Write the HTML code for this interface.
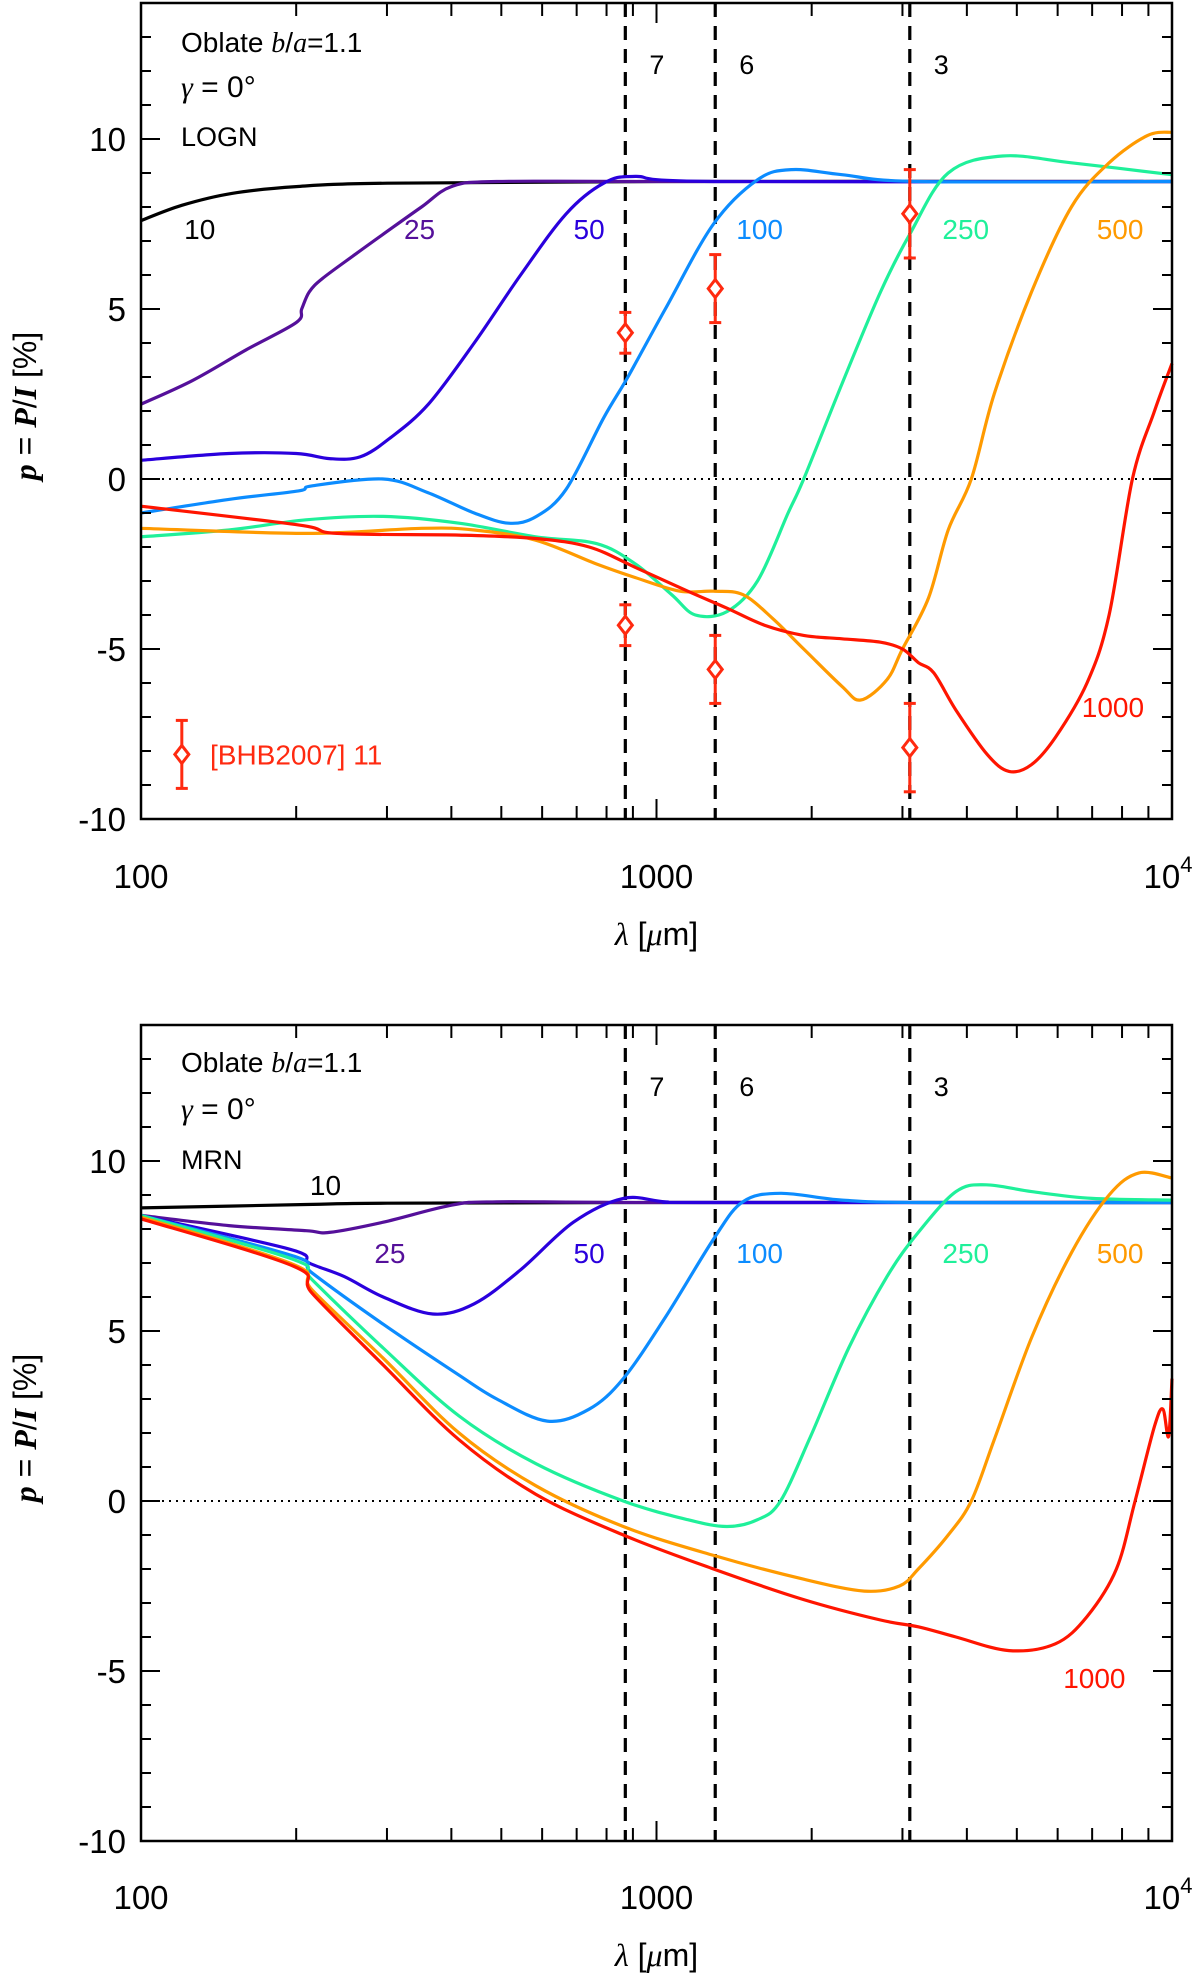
<!DOCTYPE html>
<html><head><meta charset="utf-8"><style>
html,body{margin:0;padding:0;background:#fff;}
svg{display:block;}
text{font-family:"Liberation Sans",sans-serif;}
.it{font-family:"Liberation Serif",serif;font-style:italic;}
</style></head><body>
<svg id="fig" width="1200" height="1976" viewBox="0 0 1200 1976" xmlns="http://www.w3.org/2000/svg"></svg>
<script>
const NS="http://www.w3.org/2000/svg";
const svg=document.getElementById('fig');
const colors={s10:"#000000",s25:"#55109a",s50:"#2a00dd",s100:"#0c8cff",s250:"#1ff09a",s500:"#ff9a00",s1000:"#ff1500"};
const sizes=["10","25","50","100","250","500","1000"];
const bandLambda=[870,1300,3100];
const bandLabels=["7","6","3"];
const yTickValues=[-10,-5,0,5,10];
const xTickLabels=["100","1000","10"];
// top panel (LOGN) series: [lambda, p]
const top10=[[100,7.6],[120,8.05],[150,8.4],[200,8.6],[300,8.7],[1000,8.75],[10000,8.75]];
const top25=[[100,2.2],[126,2.9],[160,3.8],[200,4.6],[205,5.0],[212,5.5],[225,5.9],[260,6.6],[295,7.2],[350,8.0],[400,8.6],[490,8.75],[1000,8.75],[10000,8.75]];
const top50=[[100,0.55],[148,0.75],[200,0.75],[232,0.6],[266,0.65],[304,1.2],[361,2.2],[443,4.0],[545,6.0],[668,7.8],[790,8.7],[910,8.9],[1290,8.75],[10000,8.75]];
const top100=[[100,-1.0],[148,-0.6],[202,-0.35],[215,-0.2],[295,0.0],[360,-0.4],[443,-1.0],[517,-1.3],[585,-1.1],[668,-0.3],[790,1.8],[880,3.0],[1040,5.0],[1290,7.5],[1570,8.8],[1830,9.1],[2290,8.95],[3220,8.75],[10000,8.75]];
const top250=[[100,-1.7],[148,-1.5],[209,-1.2],[295,-1.1],[414,-1.3],[583,-1.7],[765,-1.9],[910,-2.5],[1070,-3.4],[1190,-4.0],[1370,-3.9],[1570,-3.0],[1800,-1.0],[1930,0.0],[2290,2.8],[2720,5.5],[3100,7.2],[3680,9.0],[4690,9.5],[6380,9.3],[10000,8.95]];
const top500=[[100,-1.45],[209,-1.6],[350,-1.45],[443,-1.5],[583,-1.8],[765,-2.5],[910,-2.9],[1110,-3.3],[1290,-3.3],[1470,-3.4],[1680,-4.1],[1930,-5.0],[2290,-6.1],[2490,-6.5],[2800,-5.9],[3000,-5.0],[3370,-3.5],[3680,-1.5],[4080,0.0],[4520,2.5],[5340,5.5],[6380,8.0],[7550,9.3],[8960,10.1],[10000,10.2]];
const top1000=[[100,-0.8],[202,-1.35],[240,-1.6],[414,-1.65],[583,-1.75],[740,-2.0],[910,-2.6],[1150,-3.3],[1370,-3.8],[1620,-4.3],[1930,-4.6],[2290,-4.7],[2720,-4.8],[3000,-5.0],[3220,-5.4],[3450,-5.7],[3810,-6.8],[4380,-8.1],[4830,-8.6],[5340,-8.4],[5940,-7.6],[6840,-6.0],[7550,-4.0],[8380,0.0],[9250,2.0],[10000,3.4]];
// bottom panel (MRN) series
const bot10=[[100,8.62],[209,8.72],[300,8.76],[1000,8.78],[10000,8.78]];
const bot25=[[100,8.4],[148,8.1],[209,7.95],[232,7.9],[295,8.2],[400,8.7],[490,8.8],[1000,8.78],[10000,8.78]];
const bot50=[[100,8.4],[195,7.4],[212,7.0],[248,6.6],[295,6.0],[368,5.5],[443,5.8],[545,6.8],[690,8.2],[862,8.9],[1040,8.8],[1290,8.78],[10000,8.78]];
const bot100=[[100,8.4],[198,7.2],[215,6.7],[295,5.2],[414,3.7],[490,3.0],[614,2.35],[740,2.7],[862,3.6],[1040,5.4],[1290,7.7],[1470,8.8],[1740,9.05],[2290,8.85],[3220,8.78],[10000,8.78]];
const bot250=[[100,8.4],[198,7.1],[215,6.5],[295,4.5],[414,2.5],[583,1.1],[862,0.0],[1150,-0.55],[1370,-0.75],[1570,-0.55],[1740,0.0],[1990,1.9],[2360,4.5],[2800,6.6],[3220,7.9],[3810,9.1],[4360,9.3],[5340,9.1],[7000,8.9],[10000,8.85]];
const bot500=[[100,8.35],[198,6.95],[215,6.2],[295,4.2],[414,2.0],[583,0.45],[862,-0.75],[1290,-1.6],[1930,-2.3],[2530,-2.65],[2960,-2.5],[3220,-2.0],[3680,-1.0],[4080,0.0],[4520,1.8],[5340,4.8],[6380,7.3],[7550,9.0],[8630,9.65],[10000,9.5]];
const bot1000=[[100,8.3],[198,6.9],[215,6.1],[295,4.0],[414,1.8],[583,0.2],[862,-1.0],[1290,-2.0],[1930,-2.9],[2720,-3.5],[3220,-3.7],[3810,-4.0],[4830,-4.4],[5940,-4.2],[6840,-3.4],[7800,-2.0],[8480,0.0],[9250,2.2],[9600,2.7],[9850,1.9],[10000,3.6]];
// observations (top panel)
const obsLambda=[870,870,1300,1300,3100,3100];
const obsP=[4.3,-4.3,5.6,-5.6,7.8,-7.9];
const obsErr=[0.6,0.6,1.0,1.0,1.3,1.3];
// curve label positions [lambda, p]
const topLabels=[[130,7.36],[347,7.36],[740,7.36],[1585,7.36],[3980,7.36],[7930,7.36],[7680,-6.7]];
const botLabels=[[228,9.3],[304,7.3],[740,7.3],[1585,7.3],[3980,7.3],[7930,7.3],[7070,-5.2]];

function el(tag,attrs,parent){const e=document.createElementNS(NS,tag);for(const k in attrs)e.setAttribute(k,attrs[k]);(parent||svg).appendChild(e);return e;}

function makePanel(cfg){
  const L=141,R=1172,T=cfg.top,B=cfg.bottom;
  const ymin=-10,ymax=14;
  const X=l=>L+(Math.log10(l)-2)/2*(R-L);
  const Y=p=>B-(p-ymin)/(ymax-ymin)*(B-T);
  const g=el('g',{});
  
  
  // zero dotted line
  const z=el('line',{x1:L,x2:R,y1:Y(0),y2:Y(0),stroke:'#000','stroke-width':2,'stroke-dasharray':'2,5'},g);
  
  // band lines
  bandLambda.forEach((l,i)=>{
    const ln=el('line',{x1:X(l),x2:X(l),y1:T,y2:B,stroke:'#000','stroke-width':3.2,'stroke-dasharray':'14,9'},g);
    
    const t=el('text',{x:X(l)+24,y:cfg.bandY,'font-size':27,'text-anchor':'start'},g);
    t.textContent=bandLabels[i];
    
  });
  // curves
  cfg.series.forEach((s,i)=>{
    const pts=s.map(d=>[X(d[0]),Y(d[1])]);
    let d='M'+pts[0][0].toFixed(1)+','+pts[0][1].toFixed(1);
    for(let k=0;k<pts.length-1;k++){
      const p0=pts[Math.max(0,k-1)],p1=pts[k],p2=pts[k+1],p3=pts[Math.min(pts.length-1,k+2)];
      const c1x=p1[0]+(p2[0]-p0[0])/6,c1y=p1[1]+(p2[1]-p0[1])/6;
      const c2x=p2[0]-(p3[0]-p1[0])/6,c2y=p2[1]-(p3[1]-p1[1])/6;
      d+=' C'+c1x.toFixed(1)+','+c1y.toFixed(1)+' '+c2x.toFixed(1)+','+c2y.toFixed(1)+' '+p2[0].toFixed(1)+','+p2[1].toFixed(1);
    }
    const c=colors['s'+sizes[i]];
    const path=el('path',{d:d,fill:'none',stroke:c,'stroke-width':3.2,'stroke-linejoin':'round'},g);
    
    const lp=cfg.labels[i];
    const t=el('text',{x:X(lp[0]),y:Y(lp[1])+10,'font-size':28,'text-anchor':'middle',fill:c},g);
    t.textContent=sizes[i];
    
  });
  // observations
  if(cfg.obs){
    const drawObs=(l,p,e,nm)=>{
      const og=el('g',{stroke:'#ff2a10','stroke-width':3,fill:'none'},g);
      
      const x=X(l),y=Y(p),y1=Y(p+e),y2=Y(p-e);
      el('line',{x1:x,x2:x,y1:y1,y2:y2},og);
      el('line',{x1:x-6,x2:x+6,y1:y1,y2:y1},og);
      el('line',{x1:x-6,x2:x+6,y1:y2,y2:y2},og);
      el('path',{d:`M${x},${y-9} L${x+7},${y} L${x},${y+9} L${x-7},${y} Z`,fill:'#fff'},og);
    };
    obsLambda.forEach((l,i)=>drawObs(l,obsP[i],obsErr[i],'observation-point'));
    drawObs(120,-8.1,1.0,'legend-marker');
    const t=el('text',{x:210,y:Y(-8.1)+10,'font-size':28,fill:'#ff2a10'},g);
    t.textContent='[BHB2007] 11';
    
  }
  // frame
  const fr=el('rect',{x:L,y:T,width:R-L,height:B-T,fill:'none',stroke:'#000','stroke-width':2.5},g);
  
  // y ticks
  for(let v=ymin;v<=ymax;v++){
    const major=v%5===0, len=major?19:10, y=Y(v);
    el('line',{x1:L,x2:L+len,y1:y,y2:y,stroke:'#000','stroke-width':2},g);
    el('line',{x1:R,x2:R-len,y1:y,y2:y,stroke:'#000','stroke-width':2},g);
  }
  yTickValues.forEach(v=>{
    const t=el('text',{x:126,y:Y(v)+12,'font-size':33,'text-anchor':'end'},g);
    t.textContent=String(v);
    
  });
  // x ticks
  for(let dec=100;dec<=1000;dec*=10){
    for(let m=1;m<=10;m++){
      const l=dec*m;if(l>10000)break;
      const major=(m===1||m===10), len=major?20:13, x=X(l);
      el('line',{x1:x,x2:x,y1:B,y2:B-len,stroke:'#000','stroke-width':2},g);
      el('line',{x1:x,x2:x,y1:T,y2:T+len,stroke:'#000','stroke-width':2},g);
    }
  }
  [[100,xTickLabels[0]],[1000,xTickLabels[1]]].forEach(a=>{
    const t=el('text',{x:X(a[0]),y:cfg.xtickY,'font-size':33,'text-anchor':'middle'},g);
    t.textContent=a[1];
  });
  const t4=el('text',{x:X(10000)-4,y:cfg.xtickY,'font-size':33,'text-anchor':'middle'},g);
  t4.innerHTML='10<tspan dy="-16" font-size="22">4</tspan>';
  
  // axis titles
  const xl=el('text',{x:(L+R)/2,y:cfg.xlabY,'font-size':32,'text-anchor':'middle'},g);
  xl.innerHTML='<tspan class="it">λ</tspan> [<tspan class="it">μ</tspan>m]';
  
  const cy=(T+B)/2-5;
  const yl=el('text',{x:0,y:0,'font-size':32,'text-anchor':'middle',transform:`translate(36,${cy}) rotate(-90)`},g);
  yl.innerHTML='<tspan class="it" font-weight="bold">p</tspan> = <tspan class="it" font-weight="bold">P</tspan>/<tspan class="it" font-weight="bold">I</tspan> [%]';
  
  // annotations
  const a1=el('text',{x:181,y:cfg.annY[0],'font-size':28},g);
  a1.innerHTML='Oblate <tspan class="it">b</tspan>/<tspan class="it">a</tspan>=1.1';
  
  const a2=el('text',{x:181,y:cfg.annY[1],'font-size':30},g);
  a2.innerHTML='<tspan class="it">γ</tspan> = 0°';
  
  const a3=el('text',{x:181,y:cfg.annY[2],'font-size':27},g);
  a3.textContent=cfg.dist;
  
}
makePanel({name:'top-panel-logn',top:3,bottom:819,bandY:74,xtickY:888,xlabY:945,annY:[52,97,146],dist:'LOGN',
  series:[top10,top25,top50,top100,top250,top500,top1000],labels:topLabels,obs:true});
makePanel({name:'bottom-panel-mrn',top:1025,bottom:1841,bandY:1096,xtickY:1909,xlabY:1966,annY:[1072,1119,1169],dist:'MRN',
  series:[bot10,bot25,bot50,bot100,bot250,bot500,bot1000],labels:botLabels,obs:false});
</script>
</body></html>
